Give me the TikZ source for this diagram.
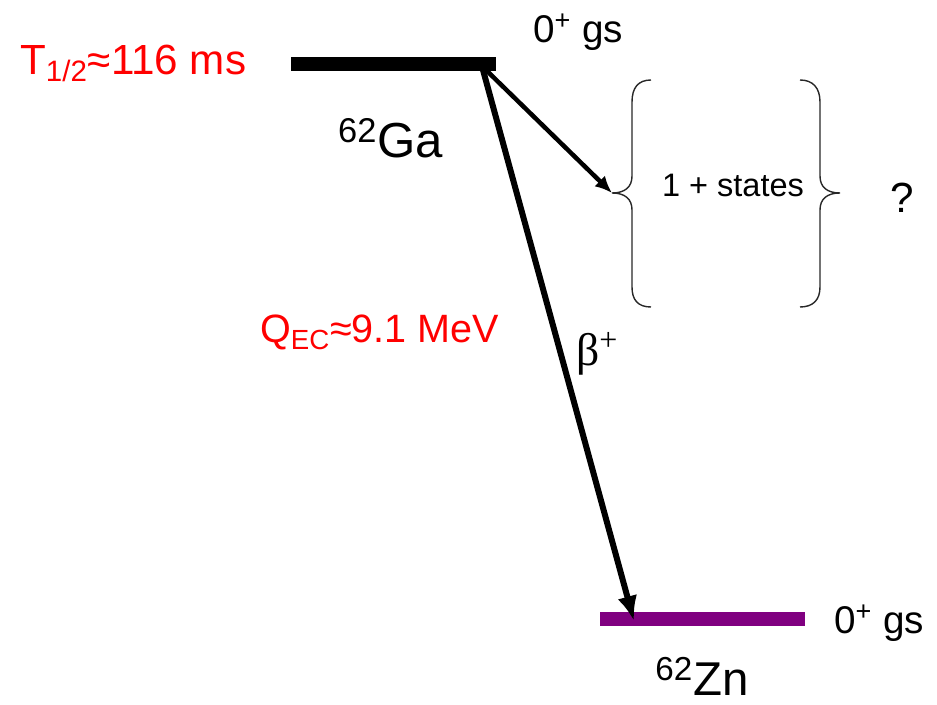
\documentclass[tikz,border=0pt]{standalone}
\usepackage{fontspec}
\setmainfont{Liberation Sans}
\newfontfamily\greekfont{Liberation Serif}
\usepackage{tikz}
\usetikzlibrary{arrows.meta,calc,positioning}
\definecolor{warn}{RGB}{255,0,0}
\definecolor{znlevel}{RGB}{128,0,128}
\definecolor{brace}{RGB}{40,40,40}

\begin{document}
\begin{tikzpicture}[x=0.02cm, y=-0.02cm]
  \useasboundingbox (0,0) rectangle (937,705);
  % levels
  \coordinate (GaL) at (291,64);
  \coordinate (GaR) at (496,64);
  \coordinate (ZnL) at (600,619);
  \coordinate (ZnR) at (805,619);
  \draw[line width=0.28cm] (GaL) -- (GaR);
  \draw[line width=0.28cm, color=znlevel] (ZnL) -- (ZnR);
  \node[anchor=base west, color=warn, font=\fontsize{24}{29}\selectfont] (thalf) at (14,75) {T\textsubscript{1/2}≈116 ms};
  \node[anchor=base west, font=\fontsize{22}{26}\selectfont] (gsGa) at (527,43) {0\textsuperscript{+} gs};
  \node[anchor=base west, font=\fontsize{28}{33}\selectfont] (Ga) at (332,158) {\textsuperscript{62}Ga};
  \node[anchor=base west, font=\fontsize{22}{26}\selectfont] (gsZn) at (828,634) {0\textsuperscript{+} gs};
  \node[anchor=base west, inner sep=0pt, font=\fontsize{27}{32}\selectfont] (Zn) at (655,696) {\textsuperscript{62}Zn};
  \node[anchor=base west, color=warn, font=\fontsize{22.5}{27}\selectfont] (qec) at (254,343) {Q\textsubscript{EC}≈9.1 MeV};
  \node[anchor=base west, font=\fontsize{26}{30}\selectfont] (beta) at (570,366) {\greekfont β\textsuperscript{+}};
  % decays
  \coordinate (betaS) at (483,70);
  \coordinate (betaE) at (634,621);
  \coordinate (lbrace) at (612,193);
  \draw[-{Latex[length=0.5cm, width=0.4cm]}, line width=0.12cm] (betaS) -- (betaE);
  \draw[-{Latex[length=0.34cm, width=0.3cm]}, line width=0.09cm] (486,70) -- (lbrace);
  % braces
  \draw[color=brace, line width=0.8pt] (651,80) .. controls (638,80) and (632,88) .. (632,102) -- (632,176)
    .. controls (632,187) and (625,193) .. (lbrace) .. controls (625,193) and (632,199) .. (632,210)
    -- (632,287) .. controls (632,300) and (638,307) .. (651,307);
  \draw[color=brace, line width=0.8pt] (800,80) .. controls (813,80) and (820,88) .. (820,102) -- (820,176)
    .. controls (820,187) and (827,193) .. (840,193) .. controls (827,193) and (820,199) .. (820,210)
    -- (820,287) .. controls (820,300) and (813,307) .. (800,307);
  \node[font=\fontsize{18.5}{22}\selectfont] (states) at (733,185) {1 + states};
  \node[font=\fontsize{24}{28}\selectfont] (unknown) at (902,198) {?};
\end{tikzpicture}
\end{document}
